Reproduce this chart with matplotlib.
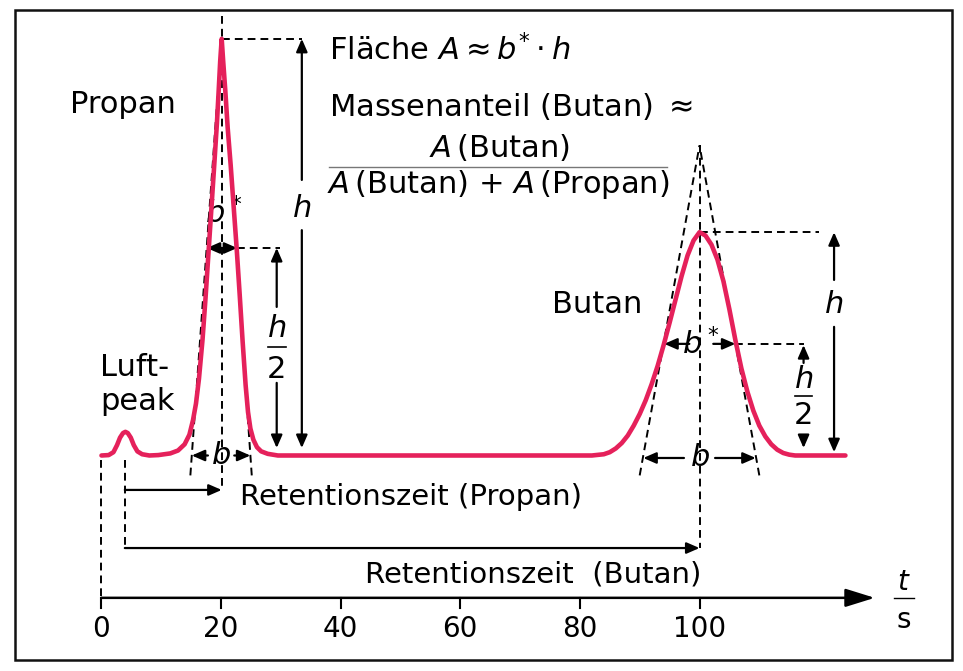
import matplotlib
matplotlib.use("Agg")
import matplotlib.pyplot as plt
from matplotlib.patches import Rectangle

plt.rcParams['font.family'] = ['DejaVu Sans']
plt.rcParams['mathtext.fontset'] = 'dejavusans'

# chromatogram trace (t in s, signal with Propan peak ~ 100)
# air peak
air_t = [0, 1.2, 2.0, 2.6, 3.1, 3.6, 4.0, 4.4, 4.9, 5.4, 6.0, 6.8, 8.0]
air_s = [0, 0.1, 0.8, 2.5, 4.3, 5.4, 5.7, 5.4, 4.3, 2.5, 1.0, 0.3, 0]
# Propan peak
prop_t = [9.5, 11.5, 12.8, 13.9, 14.7, 15.3, 15.8, 16.3, 16.9, 17.4, 17.9, 18.4,
          18.9, 19.3, 19.6, 19.85, 20.1, 20.35, 20.7, 21.1, 21.6, 22.1, 22.6,
          23.1, 23.6, 24.1, 24.5, 24.9, 25.4, 26.0, 26.7, 27.8, 29.5]
prop_s = [0.1, 0.5, 1.2, 2.7, 5.0, 8.5, 12.5, 18.5, 28, 38, 49, 60,
          71, 80, 88, 95, 100.4, 95, 88, 79, 70, 60, 50,
          39, 27.5, 17, 10.5, 6.5, 3.8, 2.0, 1.0, 0.4, 0]
# baseline and Butan peak
but_t = [50, 70, 82, 84, 85, 86, 87, 88, 89, 90, 91, 92, 93, 94, 95, 96, 97,
         98, 99, 100, 101, 102, 103, 104, 105, 106, 107, 108, 109, 110, 111,
         112, 113, 114, 115, 116, 124.4]
but_s = [0, 0, 0, 0.3, 0.8, 1.7, 3.0, 4.8, 7.2, 10.0, 13.3, 17.2, 21.6, 26.6,
         32.0, 37.6, 43.2, 48.2, 51.8, 53.8, 53.0, 50.8, 47.2, 42.0, 35.2,
         27.8, 21.0, 15.4, 10.8, 7.2, 4.6, 2.7, 1.4, 0.6, 0.2, 0, 0]

# peak parameters
t_air = 3.9
ret_time = [20.1, 100]          # Propan, Butan
peak_h = [100.4, 53.8]
apex_s = [100.4, 74.7]          # tangent triangle apex
bstar_l = [17.6, 94.1]          # half height width edges
bstar_r = [22.7, 106.0]
b_l = [15.1, 90.6]              # base width (tangent) edges
b_r = [24.9, 109.4]

ticks = [0, 20, 40, 60, 80, 100]

pink = '#e5215b'
dash = (0, (4, 2.6))

fig = plt.figure(figsize=(9.63, 6.71), dpi=100)
ax = fig.add_axes([0, 0, 1, 1])
ax.set_xlim(-16.97, 144.06)
ax.set_ylim(-51.93, 109.76)
ax.axis('off')

fig.patches.append(Rectangle((0.0156, 0.0164), 0.973, 0.9687, transform=fig.transFigure,
                             fill=False, lw=1.8, ec='#111111'))


def dline(x, y):
    ax.plot(x, y, color='k', lw=1.4, linestyle=dash, zorder=2)


def arrow(x0, y0, x1, y1, hl=0.55, hw=0.24, lw=1.6, ms=14):
    ax.annotate('', xy=(x1, y1), xytext=(x0, y0),
                arrowprops=dict(arrowstyle='-|>,head_length=%s,head_width=%s' % (hl, hw),
                                lw=lw, color='k', shrinkA=0, shrinkB=0,
                                mutation_scale=ms), zorder=3)


# trace
ax.plot(air_t + prop_t + but_t, air_s + prop_s + but_s, color=pink, lw=3.3,
        solid_joinstyle='round', solid_capstyle='round', zorder=4)

# tangents and centre lines
for i in range(2):
    for edge in (b_l[i], b_r[i]):
        slope = apex_s[i] / (ret_time[i] - edge)
        lo = -4.8
        x_lo = edge + lo / slope
        dline([x_lo, ret_time[i]], [lo, apex_s[i]])

dline([ret_time[0], ret_time[0]], [106, -8.3])
dline([ret_time[1], ret_time[1]], [apex_s[1], -22.3])
dline([t_air, t_air], [-1, -22.3])
dline([0, 0], [-1, -34.3])

# Propan annotations
tP = ret_time[0]
arrow(tP, 50, bstar_l[0], 50)
arrow(tP, 50, bstar_r[0], 50)
ax.text(20.5, 58.5, r'$b^*$', fontsize=22, ha='center', va='center')
dline([bstar_r[0], 29.8], [50, 50])
arrow(29.3, 35.8, 29.3, 50)
arrow(29.3, 17.5, 29.3, 1.8)
ax.text(29.3, 30.7, r'$h$', fontsize=22, ha='center', va='center')
ax.plot([27.9, 30.8], [26.1, 26.1], color='k', lw=1.2)
ax.text(29.3, 20.8, '2', fontsize=22, ha='center', va='center')
dline([tP, 33.5], [peak_h[0], peak_h[0]])
arrow(33.5, 66.4, 33.5, peak_h[0])
arrow(33.5, 54.3, 33.5, 1.8)
ax.text(33.5, 59.6, r'$h$', fontsize=22, ha='center', va='center')
arrow(17.8, 0, b_l[0], 0)
arrow(22.2, 0, b_r[0], 0)
ax.text(19.9, 0, r'$b$', fontsize=22, ha='center', va='center')

# Butan annotations
tB = ret_time[1]
arrow(98.3, 26.9, bstar_l[1], 26.9)
arrow(102.3, 26.9, bstar_r[1], 26.9)
ax.text(100.3, 26.9, r'$b^*$', fontsize=22, ha='center', va='center')
dline([bstar_r[1], 117.4], [26.9, 26.9])
arrow(117.4, 22.3, 117.4, 26.6)
arrow(117.4, 4.5, 117.4, 1.8)
ax.text(117.4, 18.2, r'$h$', fontsize=22, ha='center', va='center')
ax.plot([116.0, 118.8], [14.3, 14.3], color='k', lw=1.2)
ax.text(117.4, 9.6, '2', fontsize=22, ha='center', va='center')
dline([tB, 119.9], [peak_h[1], peak_h[1]])
arrow(122.5, 42.3, 122.5, peak_h[1])
arrow(122.5, 31.0, 122.5, 0.8)
ax.text(122.5, 36.3, r'$h$', fontsize=22, ha='center', va='center')
arrow(97.4, -0.6, b_l[1], -0.6)
arrow(102.6, -0.6, b_r[1], -0.6)
ax.text(100.0, -0.6, r'$b$', fontsize=22, ha='center', va='center')

# retention times
arrow(t_air, -8.3, tP, -8.3)
arrow(t_air, -22.3, tB, -22.3)
ax.text(23.1, -10.0, 'Retentionszeit (Propan)', fontsize=21, ha='left', va='center')
ax.text(44.0, -28.6, 'Retentionszeit  (Butan)', fontsize=21, ha='left', va='center')

# time axis
arrow(0, -34.3, 129.3, -34.3, hl=0.9, hw=0.28, lw=1.8, ms=20)
for t in ticks:
    ax.plot([t, t], [-34.3, -36.7], color='k', lw=1.5)
    ax.text(t, -41.7, str(t), fontsize=20, ha='center', va='center')
ax.text(134.2, -30.4, r'$t$', fontsize=20, ha='center', va='center')
ax.plot([132.6, 135.8], [-34.3, -34.3], color='k', lw=1.0)
ax.text(134.2, -39.6, 's', fontsize=20, ha='center', va='center')

# labels
ax.text(-5.26, 84.5, 'Propan', fontsize=22, ha='left', va='center')
ax.text(-0.25, 21.1, 'Luft-', fontsize=22, ha='left', va='center')
ax.text(-0.25, 12.9, 'peak', fontsize=22, ha='left', va='center')
ax.text(75.4, 36.5, 'Butan', fontsize=22, ha='left', va='center')
ax.text(38.1, 97.7, r'Fläche $A \approx b^{*}\cdot h$', fontsize=22, ha='left', va='center')
ax.text(38.1, 84.0, r'Massenanteil (Butan) $\approx$', fontsize=22, ha='left', va='center')
ax.text(66.5, 74.3, r'$A\,$(Butan)', fontsize=22, ha='center', va='center')
ax.plot([38.1, 94.6], [69.5, 69.5], color='#777777', lw=1.0)
ax.text(66.4, 65.2, r'$A\,$(Butan) + $A\,$(Propan)', fontsize=22, ha='center', va='center')

plt.savefig('out.png', dpi=100, facecolor='white')
